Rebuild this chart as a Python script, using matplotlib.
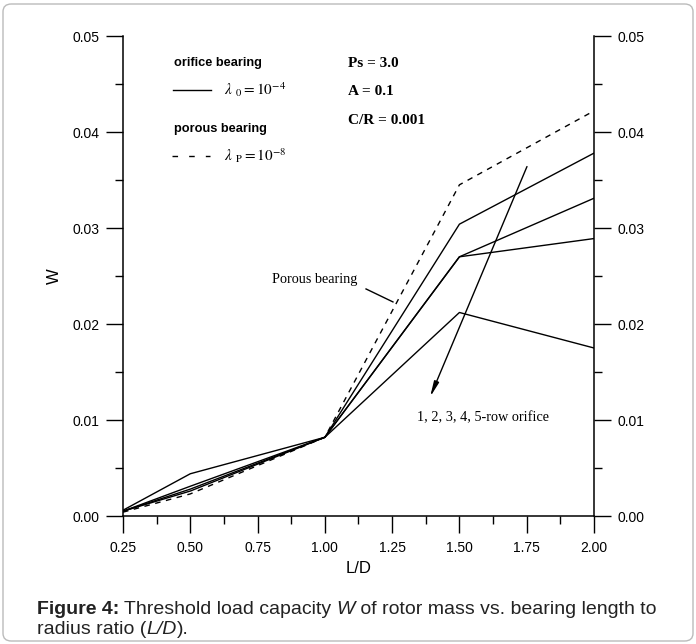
import numpy as np
import matplotlib
matplotlib.use("Agg")
import matplotlib.pyplot as plt
from matplotlib.patches import FancyBboxPatch

# L/D values and threshold load capacity W
ld = [0.25, 0.5, 1.0, 1.5, 2.0]
w_orifice_a = [0.0006, 0.0044, 0.0082, 0.0212, 0.0175]
w_orifice_b = [0.0005, 0.0031, 0.0082, 0.0270, 0.0289]
w_orifice_c = [0.0005, 0.0028, 0.0082, 0.0270, 0.0331]
w_orifice_d = [0.0005, 0.0026, 0.0082, 0.0304, 0.0378]
w_porous = [0.0004, 0.0023, 0.0082, 0.0345, 0.0422]

xticks = [0.25, 0.5, 0.75, 1.0, 1.25, 1.5, 1.75, 2.0]
yticks = [0.0, 0.01, 0.02, 0.03, 0.04, 0.05]

plt.rcParams['font.family'] = ['Liberation Sans', 'DejaVu Sans']
plt.rcParams['mathtext.fontset'] = 'stix'

fig = plt.figure(figsize=(6.96, 6.44), dpi=100)
ax = fig.add_axes([123 / 696, 128 / 644, 471 / 696, 480 / 644])

for w in [w_orifice_a, w_orifice_b, w_orifice_c, w_orifice_d]:
    ax.plot(ld, w, color='black', lw=1.0)
ax.plot(ld, w_porous, color='black', lw=1.0, ls=(0, (4, 4)))

ax.set_xlim(0.25, 2.0)
ax.set_ylim(0.0, 0.05)
ax.set_xticks(xticks)
ax.set_xticks(np.arange(0.375, 2.0, 0.25), minor=True)
ax.set_yticks(yticks)
ax.set_yticks(np.arange(0.005, 0.05, 0.01), minor=True)
ax.set_xticklabels(['%.2f' % v for v in xticks])
ax.set_yticklabels(['%.2f' % v for v in yticks])
ax.spines['top'].set_visible(False)
for s in ['left', 'right', 'bottom']:
    ax.spines[s].set_linewidth(1.1)
ax.yaxis.set_ticks_position('both')
ax.tick_params(which='both', direction='out', width=1.0, labelsize=10,
               labelright=True, pad=5)
ax.tick_params(axis='x', pad=6)
ax.tick_params(which='major', length=12)
ax.tick_params(which='minor', length=6)

ax.set_xlabel('L/D', fontsize=12, labelpad=4)
ax.set_ylabel('W', fontsize=12, labelpad=7.5)

# legend block
ax.text(0.44, 0.0472, 'orifice bearing', fontsize=9.2, fontweight='bold', va='center')
ax.plot([0.436, 0.577], [0.0444, 0.0444], color='black', lw=1.0)
ax.text(0.625, 0.0444, r'$\lambda_{\;\;0} = 10^{\mathrm{-}4}$', fontsize=11, va='center')
ax.text(0.44, 0.0403, 'porous bearing', fontsize=9.2, fontweight='bold', va='center')
ax.plot([0.432, 0.573], [0.0375, 0.0375], color='black', lw=1.0, ls=(0, (4, 8)))
ax.text(0.625, 0.0375, r'$\lambda_{\;\;\mathrm{P}} = 10^{\mathrm{-}8}$', fontsize=11, va='center')

for yy, txt in zip([0.0471, 0.0442, 0.04125], ['Ps = 3.0', 'A = 0.1', 'C/R = 0.001']):
    ax.text(1.086, yy, txt, fontsize=11, fontweight='bold',
            family='Liberation Serif', va='center')

ax.text(0.963, 0.0246, 'Porous bearing', fontsize=10.2, family='Liberation Serif',
        ha='center', va='center')
ax.plot([1.153, 1.253], [0.02365, 0.0223], color='black', lw=1.0)
ax.text(1.588, 0.0102, '1, 2, 3, 4, 5-row orifice', fontsize=10.3,
        family='Liberation Serif', ha='center', va='center')
ax.annotate('', xy=(1.391, 0.0124), xytext=(1.751, 0.0364),
            arrowprops=dict(arrowstyle='-|>,head_length=0.9,head_width=0.15',
                            color='black', lw=1.0, shrinkA=0, shrinkB=0))

# caption with mixed styles
renderer = fig.canvas.get_renderer()

def draw_line(pieces, x0, y0):
    x = x0
    for txt, kw in pieces:
        t = fig.text(x, y0, txt, fontsize=14, va='center', color='#222222', **kw)
        bb = t.get_window_extent(renderer=renderer)
        x += bb.width / 696

draw_line([('Figure 4:', dict(fontweight='bold')),
           (' Threshold load capacity ', {}),
           ('W', dict(style='italic')),
           (' of rotor mass vs. bearing length to', {})], 37 / 696, 1 - 609 / 644)
draw_line([('radius ratio (', {}),
           ('L/D', dict(style='italic')),
           (').', {})], 37 / 696, 1 - 629 / 644)

border = FancyBboxPatch((3 / 696, 3 / 644), 690 / 696, 637 / 644,
                        boxstyle='round,pad=0,rounding_size=0.012',
                        transform=fig.transFigure, fill=False,
                        edgecolor='#bbbbbb', lw=1.0)
fig.patches.append(border)

fig.savefig('out.png', dpi=100)
